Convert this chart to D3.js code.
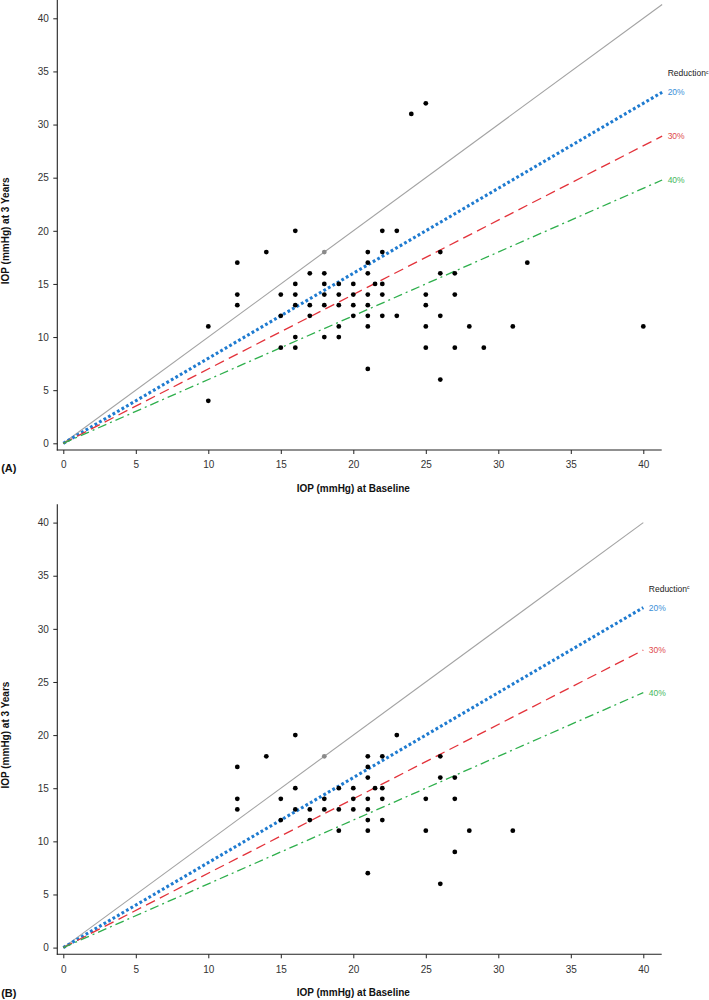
<!DOCTYPE html>
<html>
<head>
<meta charset="utf-8">
<script src="https://cdn.jsdelivr.net/npm/d3@7"></script>
<style>
  body { margin: 0; background: #fff; }
  svg { display: block; font-family: "Liberation Sans", Arial, Helvetica, sans-serif; }
</style>
</head>
<body>
<svg id="chart" width="709" height="1000"></svg>
<script>
// ---------- data ----------
const xTicks = [0, 5, 10, 15, 20, 25, 30, 35, 40];
const yTicks = [0, 5, 10, 15, 20, 25, 30, 35, 40];
const reductionLevels = [20, 30, 40];          // % reduction reference lines
const reductionLabels = ["20%", "30%", "40%"];
const panelNames = ["(A)", "(B)"];
const xTitle = "IOP (mmHg) at Baseline";
const yTitle = "IOP (mmHg) at 3 Years";
const legendTitle = "Reduction";
const lineEnds = [41.3, 40];                    // x where reference lines stop

// Panel A: baseline IOP and IOP at 3 years
const baselineA = [10, 10, 12, 12, 12, 14, 15, 15, 15, 16, 16, 16, 16, 16, 16,
  17, 17, 17, 18, 18, 18, 18, 18, 18, 19, 19, 19, 19, 19, 20, 20, 20, 20,
  21, 21, 21, 21, 21, 21, 21, 21, 21.5, 22, 22, 22, 22, 22, 23, 23, 24,
  25, 25, 25, 25, 25, 26, 26, 26, 26, 27, 27, 27, 28, 29, 31, 32, 40];
const threeYearA = [11, 4, 17, 14, 13, 18, 14, 12, 9, 20, 15, 14, 13, 10, 9,
  16, 13, 12, 18, 16, 15, 14, 13, 10, 15, 14, 13, 11, 10, 15, 14, 13, 12,
  18, 17, 16, 14, 13, 12, 11, 7, 15, 20, 18, 15, 14, 12, 20, 12, 31,
  32, 14, 13, 11, 9, 18, 16, 12, 6, 16, 14, 9, 11, 9, 11, 17, 11];

// Panel B
const baselineB = [12, 12, 12, 14, 15, 15, 16, 16, 16, 17, 17, 18, 18, 18,
  19, 19, 19, 20, 20, 20, 21, 21, 21, 21, 21, 21, 21, 21, 21.5, 22, 22, 22, 22,
  23, 25, 25, 26, 26, 26, 27, 27, 27, 28, 31];
const threeYearB = [17, 14, 13, 18, 14, 12, 20, 15, 13, 13, 12, 18, 14, 13,
  15, 13, 11, 15, 14, 13, 18, 17, 16, 14, 13, 12, 11, 7, 15, 18, 15, 14, 12,
  20, 14, 11, 18, 16, 6, 16, 14, 9, 11, 11];

const panels = [
  { name: panelNames[0], xs: baselineA, ys: threeYearA, end: lineEnds[0] },
  { name: panelNames[1], xs: baselineB, ys: threeYearB, end: lineEnds[1] }
];

// ---------- styles / layout ----------
const panelOffsets = [0, 504.3];
const lineStyle = [
  { color: "#a3a3a3", width: 1.1, dash: null },
  { color: "#1f7bd0", width: 3.1, dash: "2.8,2.4" },
  { color: "#e3323a", width: 1.3, dash: "10,5.5" },
  { color: "#2eaf4c", width: 1.3, dash: "9,4,2,4" }
];
const labelColors = ["#3b8fd8", "#e04a4e", "#45b75c"];

const svg = d3.select("#chart");

panels.forEach((p, i) => {
  const g = svg.append("g").attr("transform", `translate(0,${panelOffsets[i]})`);
  const x = d3.scaleLinear().domain([0, 40]).range([63.3, 643.3]);
  const y = d3.scaleLinear().domain([0, 40]).range([443.3, 18.3]);

  // axis frame (L shape, offset from data origin)
  g.append("line").attr("x1", 57.3).attr("x2", 57.3).attr("y1", 0).attr("y2", 450.5)
    .attr("stroke", "#222").attr("stroke-width", 1.1);
  g.append("line").attr("x1", 56.8).attr("x2", 661.7).attr("y1", 450).attr("y2", 450)
    .attr("stroke", "#222").attr("stroke-width", 1.1);

  const xAxis = g.append("g").attr("transform", "translate(0,450)")
    .call(d3.axisBottom(x).tickValues(xTicks).tickSize(4).tickPadding(7.3));
  xAxis.select(".domain").remove();
  const yAxis = g.append("g").attr("transform", "translate(57.3,0)")
    .call(d3.axisLeft(y).tickValues(yTicks).tickSize(4).tickPadding(4.5));
  yAxis.select(".domain").remove();
  [xAxis, yAxis].forEach(a => {
    a.selectAll("line").attr("stroke", "#222");
    a.selectAll("text").attr("fill", "#333").style("font-size", "10px")
      .style("font-family", '"Liberation Sans", Arial, sans-serif');
  });

  // axis titles
  g.append("text").attr("x", x(20)).attr("y", 491.8).attr("text-anchor", "middle")
    .style("font-size", "10px").style("font-weight", "bold").attr("fill", "#111").text(xTitle);
  g.append("text").attr("transform", `translate(9.3,${y(20)}) rotate(-90)`)
    .attr("text-anchor", "middle").style("font-size", "10px").style("font-weight", "bold")
    .attr("fill", "#111").text(yTitle);

  // panel label
  g.append("text").attr("x", 1.2).attr("y", i === 0 ? 472 : 493)
    .style("font-size", "11px").style("font-weight", "bold").attr("fill", "#111").text(p.name);

  // reference lines: identity + reductions
  const levels = [0].concat(reductionLevels);
  levels.forEach((r, k) => {
    const st = lineStyle[k];
    g.append("line")
      .attr("x1", x(0)).attr("y1", y(0))
      .attr("x2", x(p.end)).attr("y2", y(p.end * (1 - r / 100)))
      .attr("stroke", st.color).attr("stroke-width", st.width)
      .attr("stroke-dasharray", st.dash);
  });

  // reduction labels
  reductionLevels.forEach((r, k) => {
    g.append("text").attr("x", x(p.end) + 5.5).attr("y", y(p.end * (1 - r / 100)))
      .attr("dy", "0.35em").style("font-size", "8.5px").attr("fill", labelColors[k])
      .text(reductionLabels[k]);
  });
  const lt = g.append("text").attr("x", x(p.end) + 5.5)
    .attr("y", y(p.end * (1 - reductionLevels[0] / 100)) - 19)
    .attr("dy", "0.35em").style("font-size", "8.5px").attr("fill", "#222").text(legendTitle);
  lt.append("tspan").attr("dy", "-0.5em").style("font-size", "5px").text("c");

  // points
  g.append("g").selectAll("circle").data(p.xs.map((v, j) => [v, p.ys[j]]))
    .join("circle")
    .attr("cx", d => x(d[0])).attr("cy", d => y(d[1])).attr("r", 2.4)
    .attr("fill", d => d[0] === d[1] ? "#8a8a8a" : "#000");
});
</script>
</body>
</html>
